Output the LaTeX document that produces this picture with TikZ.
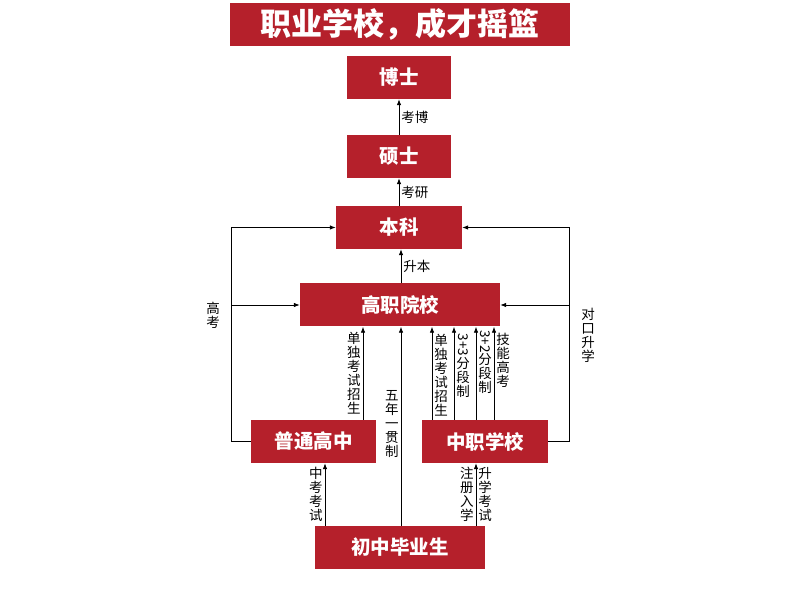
\documentclass[tikz,border=0pt]{standalone}
\usepackage{fontspec}
\usepackage{graphicx}
\setmainfont{Noto Sans CJK SC}
\usetikzlibrary{arrows.meta, positioning}
\definecolor{schoolred}{RGB}{181,32,43}

\begin{document}
\begin{tikzpicture}[x=1pt, y=1pt,
    box/.style={rectangle, fill=schoolred, text=white, inner sep=0pt, minimum height=43pt,
        font=\fontsize{19.5}{21}\selectfont\bfseries},
    arrow/.style={-{Latex[length=6pt,width=4.5pt]}, line width=0.8pt},
    lbl/.style={font=\fontsize{13.5}{14}\selectfont, align=center, inner sep=2pt}
]
\useasboundingbox (0,0) rectangle (800,600);

% Nodes using absolute positioning for exact control
\node[box, minimum width=340pt, font=\fontsize{31}{33}\selectfont\bfseries] (title) at (400, 575.5) {职业学校，成才摇篮};
\node[box, minimum width=104pt] (boshi) at (399, 522.5) {博士};
\node[box, minimum width=104pt] (shuoshi) at (399, 443.5) {硕士};
\node[box, minimum width=126pt] (benke) at (399, 372.5) {本科};
\node[box, minimum width=200pt] (gaozhi) at (400, 295) {高职院校};
\node[box, minimum width=125pt] (putong) at (313.5, 158.5) {普通高中};
\node[box, minimum width=126pt] (zhongzhi) at (485, 158.5) {中职学校};
\node[box, minimum width=170pt] (chuzhong) at (400, 52.5) {初中毕业生};

% Loop corners
\coordinate (gk) at (232, 295);
\coordinate (dk) at (569, 295);

% Arrows
\draw[arrow] (shuoshi) -- node[lbl, right] {考博} (boshi);
\draw[arrow] (benke) -- node[lbl, right] {考研} (shuoshi);
\draw[arrow] ([xshift=1pt]gaozhi.north) -- node[lbl, right] {升本} ([xshift=2pt]benke.south);

\draw[arrow] (putong.west) -- ++(-19,0) |- (benke.west);
\draw[arrow] (gk) -- (gaozhi.west);
\node[lbl] (gaokao) at (213, 285) {高\\考};
\draw[arrow] (zhongzhi.east) -- ++(21,0) |- (benke.east);
\draw[arrow] (dk) -- (gaozhi.east);
\node[lbl] (duikou) at (588, 265) {对\\口\\升\\学};

\draw[arrow] ([xshift=49.5pt]putong.north) -- node[lbl, left, pos=0.5] {单\\独\\考\\试\\招\\生} ([xshift=-37pt]gaozhi.south);
\draw[arrow] ([xshift=1pt]chuzhong.north) -- node[lbl, left, pos=0.51] {五\\年\\一\\贯\\制} ([xshift=1pt]gaozhi.south);
\draw[arrow] ([xshift=-53pt]zhongzhi.north) -- node[lbl, right, pos=0.48] {单\\独\\考\\试\\招\\生} ([xshift=32pt]gaozhi.south);
\draw[arrow] ([xshift=-31pt]zhongzhi.north) -- node[lbl, right, pos=0.58] {\rotatebox{-90}{3+3}\\分\\段\\制} ([xshift=54pt]gaozhi.south);
\draw[arrow] ([xshift=-9pt]zhongzhi.north) -- node[lbl, right, pos=0.62] {\rotatebox{-90}{3+2}\\分\\段\\制} ([xshift=76pt]gaozhi.south);
\draw[arrow] ([xshift=9pt]zhongzhi.north) -- node[lbl, right, pos=0.64] {技\\能\\高\\考} ([xshift=94pt]gaozhi.south);

\draw[arrow] ([xshift=-75pt]chuzhong.north) -- node[lbl, left] {中\\考\\考\\试} ([xshift=11.5pt]putong.south);
\draw[arrow] ([xshift=76pt]chuzhong.north) -- node[lbl, left] {注\\册\\入\\学} node[lbl, right] {升\\学\\考\\试} ([xshift=-9pt]zhongzhi.south);

\end{tikzpicture}
\end{document}
